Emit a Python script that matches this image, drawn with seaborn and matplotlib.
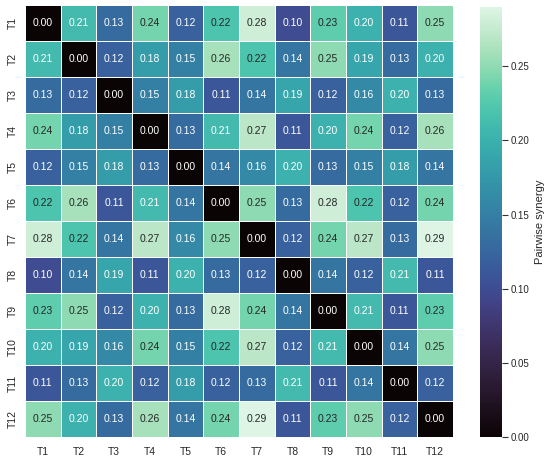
import numpy as np
import pandas as pd
import matplotlib.pyplot as plt
import seaborn as sns

labels = [f"T{i}" for i in range(1, 13)]

row_t1 = [0.00, 0.21, 0.13, 0.24, 0.12, 0.22, 0.28, 0.10, 0.23, 0.20, 0.11, 0.25]
row_t2 = [0.21, 0.00, 0.12, 0.18, 0.15, 0.26, 0.22, 0.14, 0.25, 0.19, 0.13, 0.20]
row_t3 = [0.13, 0.12, 0.00, 0.15, 0.18, 0.11, 0.14, 0.19, 0.12, 0.16, 0.20, 0.13]
row_t4 = [0.24, 0.18, 0.15, 0.00, 0.13, 0.21, 0.27, 0.11, 0.20, 0.24, 0.12, 0.26]
row_t5 = [0.12, 0.15, 0.18, 0.13, 0.00, 0.14, 0.16, 0.20, 0.13, 0.15, 0.18, 0.14]
row_t6 = [0.22, 0.26, 0.11, 0.21, 0.14, 0.00, 0.25, 0.13, 0.28, 0.22, 0.12, 0.24]
row_t7 = [0.28, 0.22, 0.14, 0.27, 0.16, 0.25, 0.00, 0.12, 0.24, 0.27, 0.13, 0.29]
row_t8 = [0.10, 0.14, 0.19, 0.11, 0.20, 0.13, 0.12, 0.00, 0.14, 0.12, 0.21, 0.11]
row_t9 = [0.23, 0.25, 0.12, 0.20, 0.13, 0.28, 0.24, 0.14, 0.00, 0.21, 0.11, 0.23]
row_t10 = [0.20, 0.19, 0.16, 0.24, 0.15, 0.22, 0.27, 0.12, 0.21, 0.00, 0.14, 0.25]
row_t11 = [0.11, 0.13, 0.20, 0.12, 0.18, 0.12, 0.13, 0.21, 0.11, 0.14, 0.00, 0.12]
row_t12 = [0.25, 0.20, 0.13, 0.26, 0.14, 0.24, 0.29, 0.11, 0.23, 0.25, 0.12, 0.00]

rows = [row_t1, row_t2, row_t3, row_t4, row_t5, row_t6,
        row_t7, row_t8, row_t9, row_t10, row_t11, row_t12]
synergy = pd.DataFrame(rows, index=labels, columns=labels)

sns.set_theme(style="white")
plt.rcParams["font.family"] = ["Liberation Sans", "DejaVu Sans"]

W, H = 550, 462
fig = plt.figure(figsize=(W / 100, H / 100), dpi=100)
# pixel boxes
ax = fig.add_axes([25 / W, (H - 437) / H, (453 - 25) / W, (437 - 5) / H])
cax = fig.add_axes([480 / W, (H - 437) / H, (502 - 480) / W, (437 - 7) / H])

sns.heatmap(
    synergy,
    annot=True,
    fmt=".2f",
    cmap="mako",
    linewidths=0.5,
    linecolor="white",
    annot_kws={"fontsize": 7.5},
    cbar_ax=cax,
    ax=ax,
)
ax.tick_params(axis="both", labelsize=7.5, length=0)
ax.tick_params(axis="x", pad=7)
ax.tick_params(axis="y", pad=5)
cax.tick_params(labelsize=7, right=True, length=4, width=0.8, color="#333333", pad=2)
cax.set_ylabel("Pairwise synergy", fontsize=8)

plt.savefig("out.png", dpi=100)
